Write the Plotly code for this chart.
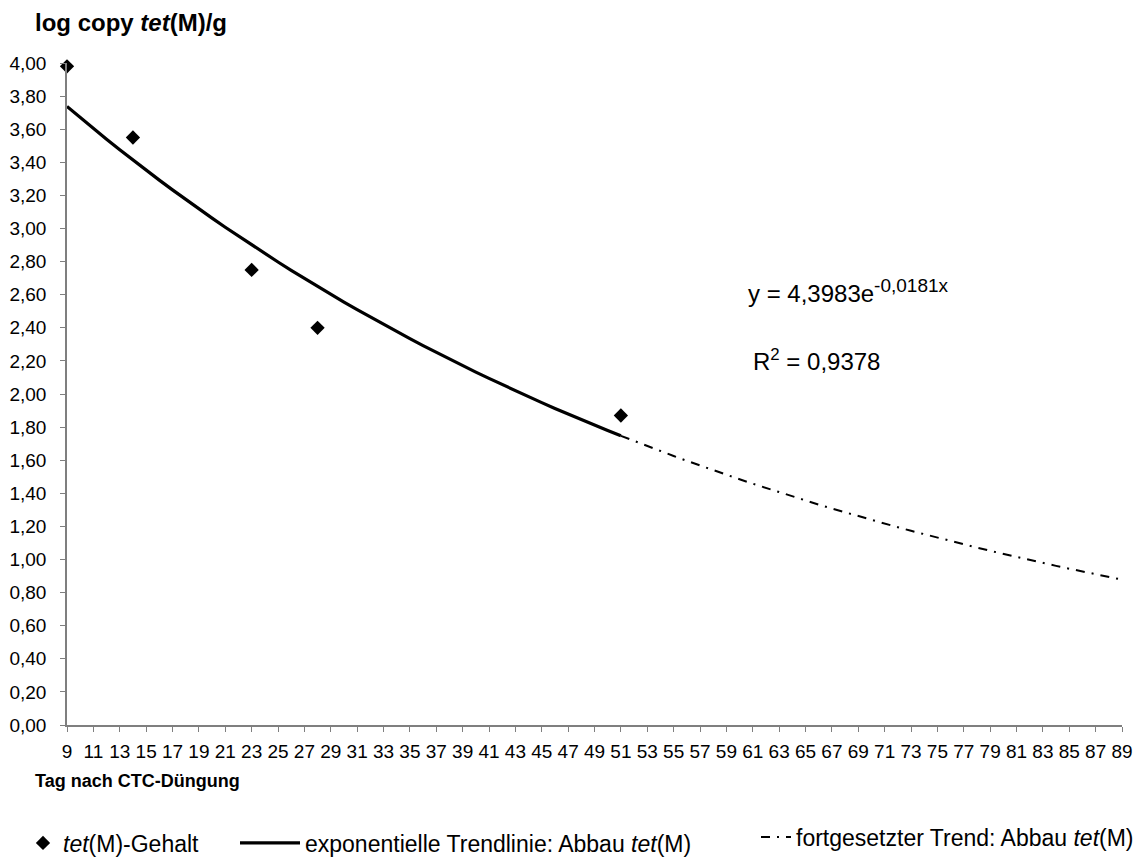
import numpy as np
import plotly.graph_objects as go

# --- data ---
days_measured = [9, 14, 23, 28, 51]
tetM_log = [3.98, 3.55, 2.75, 2.40, 1.87]

# exponential trendline coefficients (from chart equation)
trend_a = 4.3983
trend_b = -0.0181
trend_days = list(range(9, 52))
cont_days = list(range(51, 90))

x_ticks = list(range(9, 90, 2))
y_ticks = [round(0.2 * i, 1) for i in range(0, 21)]

trend_vals = [trend_a * np.exp(trend_b * d) for d in trend_days]
cont_vals = [trend_a * np.exp(trend_b * d) for d in cont_days]

FONT = "Liberation Sans, Arial, sans-serif"
W, H = 1139, 861
L, R, T, B = 67, 17, 63, 136
PW = W - L - R
PH = H - T - B


def px_x(p):
    return (p - L) / PW


def px_y(p):
    return (H - B - p) / PH


fig = go.Figure()

fig.add_trace(go.Scatter(
    x=days_measured, y=tetM_log, mode="markers",
    marker=dict(symbol="diamond", size=11, color="black"),
    name="<i>tet</i>(M)-Gehalt", legend="legend", showlegend=True,
    cliponaxis=False))

fig.add_trace(go.Scatter(
    x=trend_days, y=trend_vals, mode="lines",
    line=dict(color="black", width=3.2),
    name="exponentielle Trendlinie: Abbau <i>tet</i>(M)",
    legend="legend2", showlegend=True, hoverinfo="skip"))

fig.add_trace(go.Scatter(
    x=cont_days, y=cont_vals, mode="lines",
    line=dict(color="black", width=2, dash="9px,7px,2px,7px"),
    name="fortgesetzter Trend: Abbau <i>tet</i>(M)",
    legend="legend3", showlegend=True, hoverinfo="skip"))

leg_common = dict(orientation="h", bgcolor="rgba(0,0,0,0)",
                  font=dict(family=FONT, size=23, color="black"),
                  xref="container", yref="container",
                  yanchor="middle", xanchor="left")

fig.update_layout(
    width=W, height=H,
    margin=dict(l=L, r=R, t=T, b=B, autoexpand=False),
    paper_bgcolor="white", plot_bgcolor="white",
    separators=",.",
    showlegend=True,
    font=dict(family=FONT, color="black"),
    legend=dict(x=23 / W, y=1 - 843 / H, visible=True, **leg_common),
    legend2=dict(x=235 / W, y=1 - 843 / H, visible=True, itemwidth=60, **leg_common),
    legend3=dict(x=756 / W, y=1 - 837 / H, visible=True, **leg_common),
    xaxis=dict(range=[9, 89], tickvals=x_ticks, ticktext=[str(v) for v in x_ticks],
               showgrid=False, zeroline=False, showline=True, linecolor="#7f7f7f",
               linewidth=1.5, ticks="outside", ticklen=5, tickcolor="#7f7f7f",
               ticklabelstandoff=3, automargin=False,
               tickfont=dict(family=FONT, size=19, color="black")),
    yaxis=dict(range=[0, 4], tickvals=y_ticks, tickformat=".2f",
               showgrid=False, zeroline=False, showline=True, linecolor="#7f7f7f",
               linewidth=1.5, ticks="outside", ticklen=5, tickcolor="#7f7f7f",
               ticklabelstandoff=10, automargin=False,
               tickfont=dict(family=FONT, size=19, color="black")),
    annotations=[
        dict(text="<b>log copy <i>tet</i>(M)/g</b>", xref="paper", yref="paper",
             x=px_x(33), y=px_y(22), xanchor="left", yanchor="middle",
             showarrow=False, font=dict(family=FONT, size=24, color="black")),
        dict(text="<b>Tag nach CTC-Düngung</b>", xref="paper", yref="paper",
             x=px_x(33), y=px_y(781), xanchor="left", yanchor="middle",
             showarrow=False, font=dict(family=FONT, size=18, color="black")),
        dict(text="y = 4,3983e<sup><span style='font-size:19px'>-0,0181x</span></sup>",
             xref="paper", yref="paper",
             x=px_x(746), y=px_y(291), xanchor="left", yanchor="middle",
             showarrow=False, font=dict(family=FONT, size=24, color="black")),
        dict(text="R<sup>2</sup> = 0,9378", xref="paper", yref="paper",
             x=px_x(751), y=px_y(360), xanchor="left", yanchor="middle",
             showarrow=False, font=dict(family=FONT, size=24, color="black")),
    ],
)

fig.write_html("out.html")
